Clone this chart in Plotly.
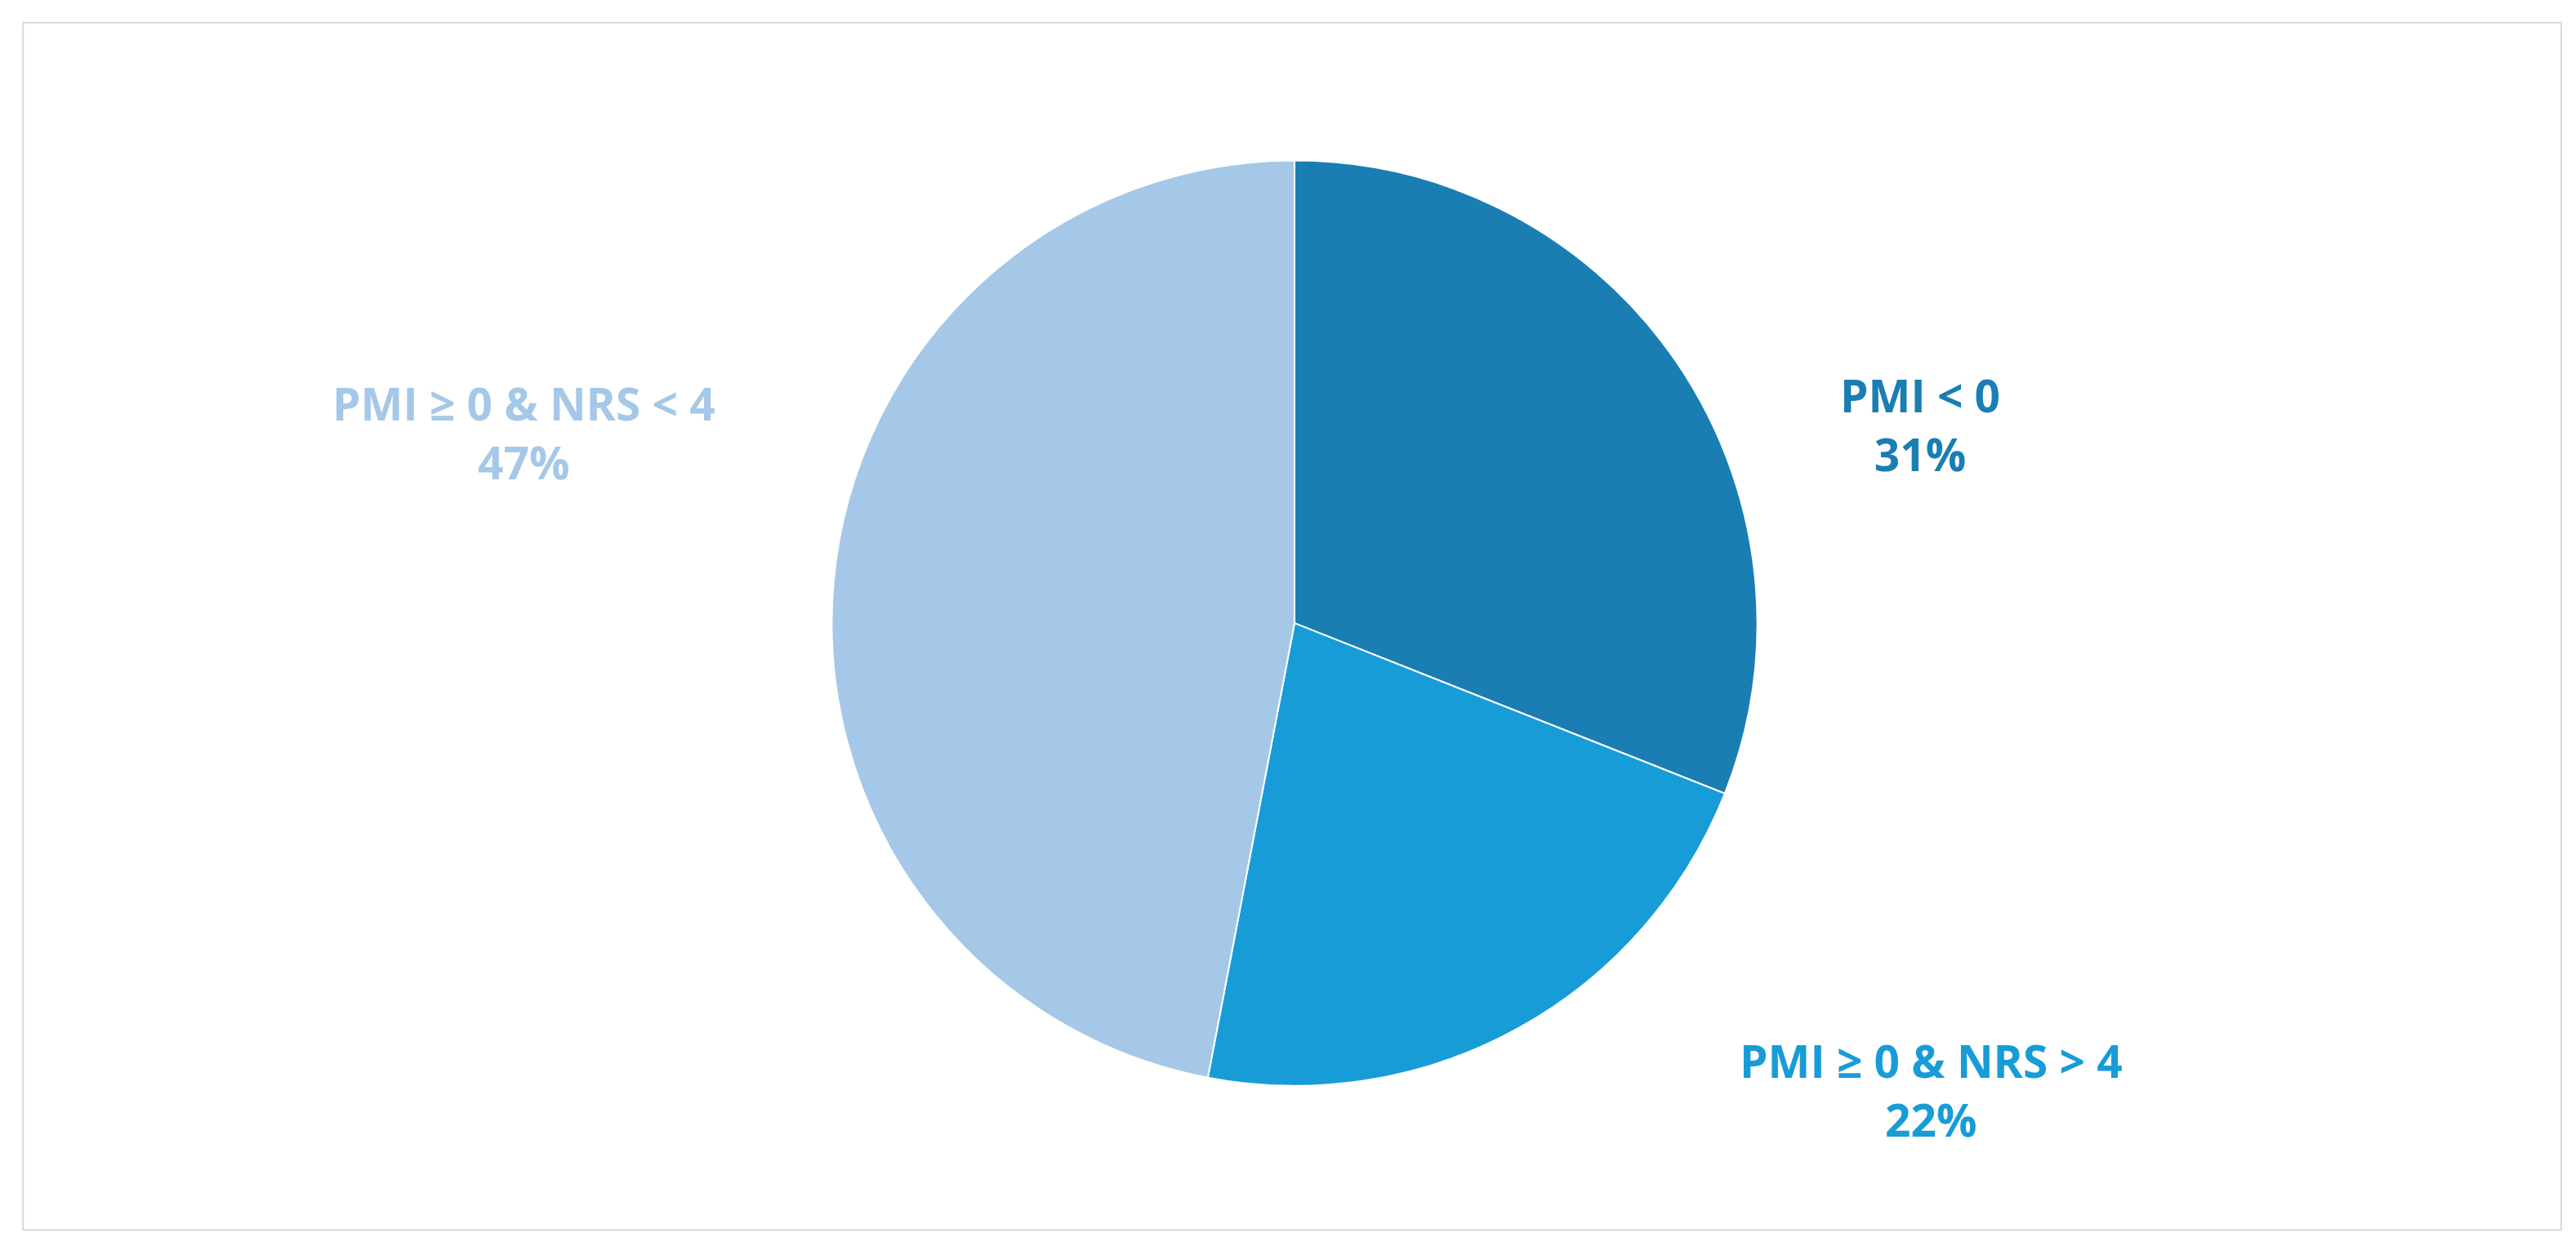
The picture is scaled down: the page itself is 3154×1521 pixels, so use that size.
import plotly.graph_objects as go

labels = ["PMI < 0", "PMI ≥ 0 & NRS > 4", "PMI ≥ 0 & NRS < 4"]
values = [31, 22, 47]
colors = ["#1A7EB3", "#189CD8", "#A5C8E8"]
label_pos = [(0.743, 0.664), (0.747, 0.128), (0.201, 0.657)]

fig = go.Figure(go.Pie(
    labels=labels, values=values, sort=False, direction="clockwise", rotation=0,
    marker=dict(colors=colors, line=dict(color="white", width=2)),
    textinfo="none", hoverinfo="label+percent", showlegend=False,
    domain=dict(x=[0.3, 0.7], y=[0.131, 0.876]),
))
for lab, v, c, (x, y) in zip(labels, values, colors, label_pos):
    fig.add_annotation(x=x, y=y, xref="paper", yref="paper", showarrow=False,
                       xanchor="center", yanchor="middle",
                       text=f"<b>{lab}<br>{v}%</b>", align="center",
                       font=dict(family="Open Sans", size=55, color=c))
fig.add_shape(type="rect", xref="paper", yref="paper", x0=0.0064, x1=0.9917, y0=0.015, y1=0.987,
              line=dict(color="#D9D9D9", width=2))
fig.update_layout(width=3154, height=1521, margin=dict(l=0, r=0, t=0, b=0),
                  paper_bgcolor="white", plot_bgcolor="white")
fig.write_html("out.html")
